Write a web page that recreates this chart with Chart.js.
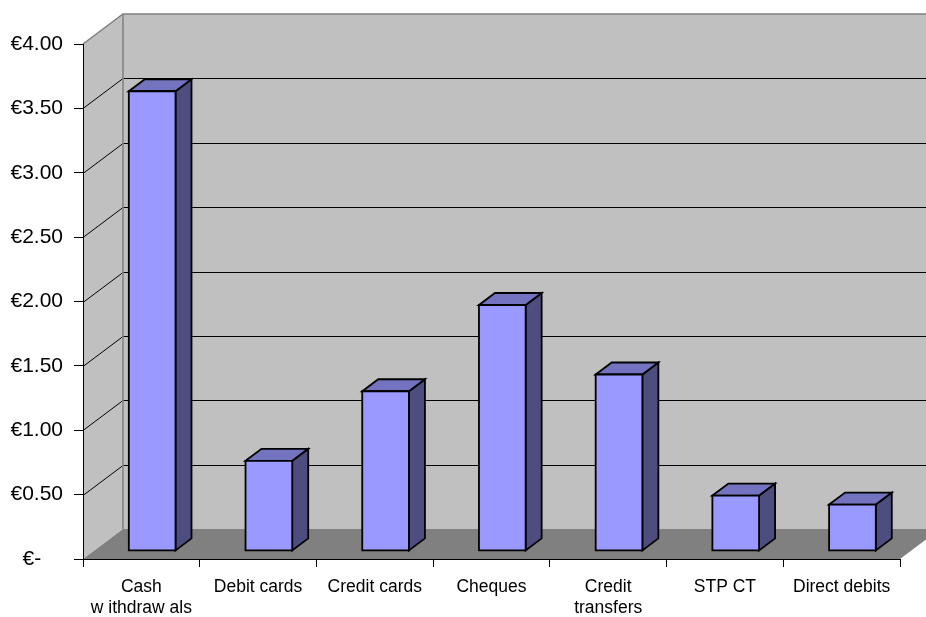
<!DOCTYPE html>
<html>
<head>
<meta charset="utf-8">
<title>Unit cost per payment instrument</title>
<script src="https://cdn.jsdelivr.net/npm/chart.js@4.4.1/dist/chart.umd.min.js"></script>
<style>
    html, body { margin: 0; padding: 0; background: #ffffff; }
    #wrap { width: 926px; height: 617px; position: relative; }
</style>
</head>
<body>
<div id="wrap"><canvas id="costChart"></canvas></div>
<script>
// Cost per transaction, in euro
const categories = [
    ['Cash', 'w ithdraw als'],
    'Debit cards',
    'Credit cards',
    'Cheques',
    ['Credit', 'transfers'],
    'STP CT',
    'Direct debits'
];
const costs = [3.57, 0.70, 1.24, 1.91, 1.37, 0.43, 0.36];
const yTicks = [0, 0.5, 1, 1.5, 2, 2.5, 3, 3.5, 4];

// 3D box geometry: offset of the back wall from the front plane
const DEPTH_X = 40;
const DEPTH_Y = -30;
// where the columns sit inside that depth (0 = front, 1 = back)
const BAR_FRONT = 0.27;
const BAR_BACK = 0.67;

const FONT = '"Liberation Sans", Arial, sans-serif';

// accounting style: zero shows as a dash, padded so it sits under the decimals
function formatEuro(v) {
    if (v === 0) return '\u20AC-   \u2009';
    return '\u20AC' + v.toFixed(2);
}

// Walls, floor and gridlines behind the columns
const wallsPlugin = {
    id: 'walls3d',
    beforeDraw(chart) {
        const { ctx, chartArea: a, scales } = chart;
        const y = scales.y;
        const L = a.left, R = a.right, T = a.top, B = a.bottom;

        ctx.save();
        // back wall
        ctx.fillStyle = '#c0c0c0';
        ctx.fillRect(L + DEPTH_X, T + DEPTH_Y, R - L, B - T);
        // left side wall
        ctx.beginPath();
        ctx.moveTo(L, T);
        ctx.lineTo(L + DEPTH_X, T + DEPTH_Y);
        ctx.lineTo(L + DEPTH_X, B + DEPTH_Y);
        ctx.lineTo(L, B);
        ctx.closePath();
        ctx.fill();
        // floor
        ctx.fillStyle = '#808080';
        ctx.beginPath();
        ctx.moveTo(L, B);
        ctx.lineTo(R, B);
        ctx.lineTo(R + DEPTH_X, B + DEPTH_Y);
        ctx.lineTo(L + DEPTH_X, B + DEPTH_Y);
        ctx.closePath();
        ctx.fill();

        // gridlines: diagonal on the side wall, then across the back wall
        ctx.strokeStyle = '#000000';
        ctx.lineWidth = 1;
        yTicks.forEach(v => {
            if (v === 0 || v === yTicks[yTicks.length - 1]) return;
            const py = Math.round(y.getPixelForValue(v)) + 0.5;
            ctx.beginPath();
            ctx.moveTo(L, py);
            ctx.lineTo(L + DEPTH_X, py + DEPTH_Y);
            ctx.lineTo(R + DEPTH_X, py + DEPTH_Y);
            ctx.stroke();
        });

        // wall edges
        ctx.strokeStyle = '#808080';
        ctx.lineWidth = 1.5;
        ctx.beginPath();
        ctx.moveTo(L, T);
        ctx.lineTo(L + DEPTH_X, T + DEPTH_Y);
        ctx.lineTo(R + DEPTH_X, T + DEPTH_Y);
        ctx.moveTo(L + DEPTH_X, T + DEPTH_Y);
        ctx.lineTo(L + DEPTH_X, B + DEPTH_Y);
        ctx.stroke();
        ctx.restore();
    }
};

// Columns drawn as boxes from the bar elements' own geometry
const columnsPlugin = {
    id: 'columns3d',
    afterDatasetsDraw(chart) {
        const { ctx } = chart;
        const meta = chart.getDatasetMeta(0);
        const fx = DEPTH_X * BAR_FRONT, fy = DEPTH_Y * BAR_FRONT;
        const dx = DEPTH_X * (BAR_BACK - BAR_FRONT), dy = DEPTH_Y * (BAR_BACK - BAR_FRONT);

        ctx.save();
        ctx.strokeStyle = '#000000';
        ctx.lineWidth = 1.8;
        ctx.lineJoin = 'miter';
        meta.data.forEach(bar => {
            const p = bar.getProps(['x', 'y', 'base', 'width'], true);
            const l = p.x - p.width / 2 + fx;
            const r = p.x + p.width / 2 + fx;
            const t = p.y + fy;
            const b = p.base + fy;

            // side face
            ctx.fillStyle = '#4d4d80';
            ctx.beginPath();
            ctx.moveTo(r, t);
            ctx.lineTo(r + dx, t + dy);
            ctx.lineTo(r + dx, b + dy);
            ctx.lineTo(r, b);
            ctx.closePath();
            ctx.fill();
            ctx.stroke();

            // top face
            ctx.fillStyle = '#7373bf';
            ctx.beginPath();
            ctx.moveTo(l, t);
            ctx.lineTo(l + dx, t + dy);
            ctx.lineTo(r + dx, t + dy);
            ctx.lineTo(r, t);
            ctx.closePath();
            ctx.fill();
            ctx.stroke();

            // front face
            ctx.fillStyle = '#9999ff';
            ctx.beginPath();
            ctx.rect(l, t, r - l, b - t);
            ctx.fill();
            ctx.stroke();
        });
        ctx.restore();
    }
};

document.addEventListener('DOMContentLoaded', function() {
    const ctx = document.getElementById('costChart');

    new Chart(ctx, {
        type: 'bar',
        data: {
            labels: categories,
            datasets: [{
                data: costs,
                backgroundColor: 'rgba(0,0,0,0)',
                borderWidth: 0,
                categoryPercentage: 1,
                barPercentage: 0.4
            }]
        },
        options: {
            responsive: true,
            maintainAspectRatio: false,
            animation: false,
            layout: {
                padding: { top: 44, right: 26, left: 0, bottom: 0 }
            },
            plugins: {
                legend: { display: false },
                tooltip: { enabled: false }
            },
            scales: {
                x: {
                    afterFit: s => { s.height = 58; },
                    grid: {
                        offset: true,
                        drawOnChartArea: false,
                        drawTicks: true,
                        tickLength: 8,
                        color: '#000000'
                    },
                    border: { display: true, color: '#000000', width: 1 },
                    ticks: {
                        color: '#000000',
                        font: { family: FONT, size: 17.5, lineHeight: 1.22 },
                        padding: 9,
                        maxRotation: 0,
                        autoSkip: false
                    }
                },
                y: {
                    min: 0,
                    max: 4,
                    afterFit: s => { s.width = 83; },
                    afterBuildTicks: s => { s.ticks = yTicks.map(v => ({ value: v })); },
                    grid: {
                        drawOnChartArea: false,
                        drawTicks: true,
                        tickLength: 9,
                        color: '#000000'
                    },
                    border: { display: true, color: '#000000', width: 1 },
                    ticks: {
                        color: '#000000',
                        font: { family: FONT, size: 21 },
                        padding: 11,
                        callback: v => formatEuro(v)
                    }
                }
            }
        },
        plugins: [wallsPlugin, columnsPlugin]
    });
});
</script>
</body>
</html>
